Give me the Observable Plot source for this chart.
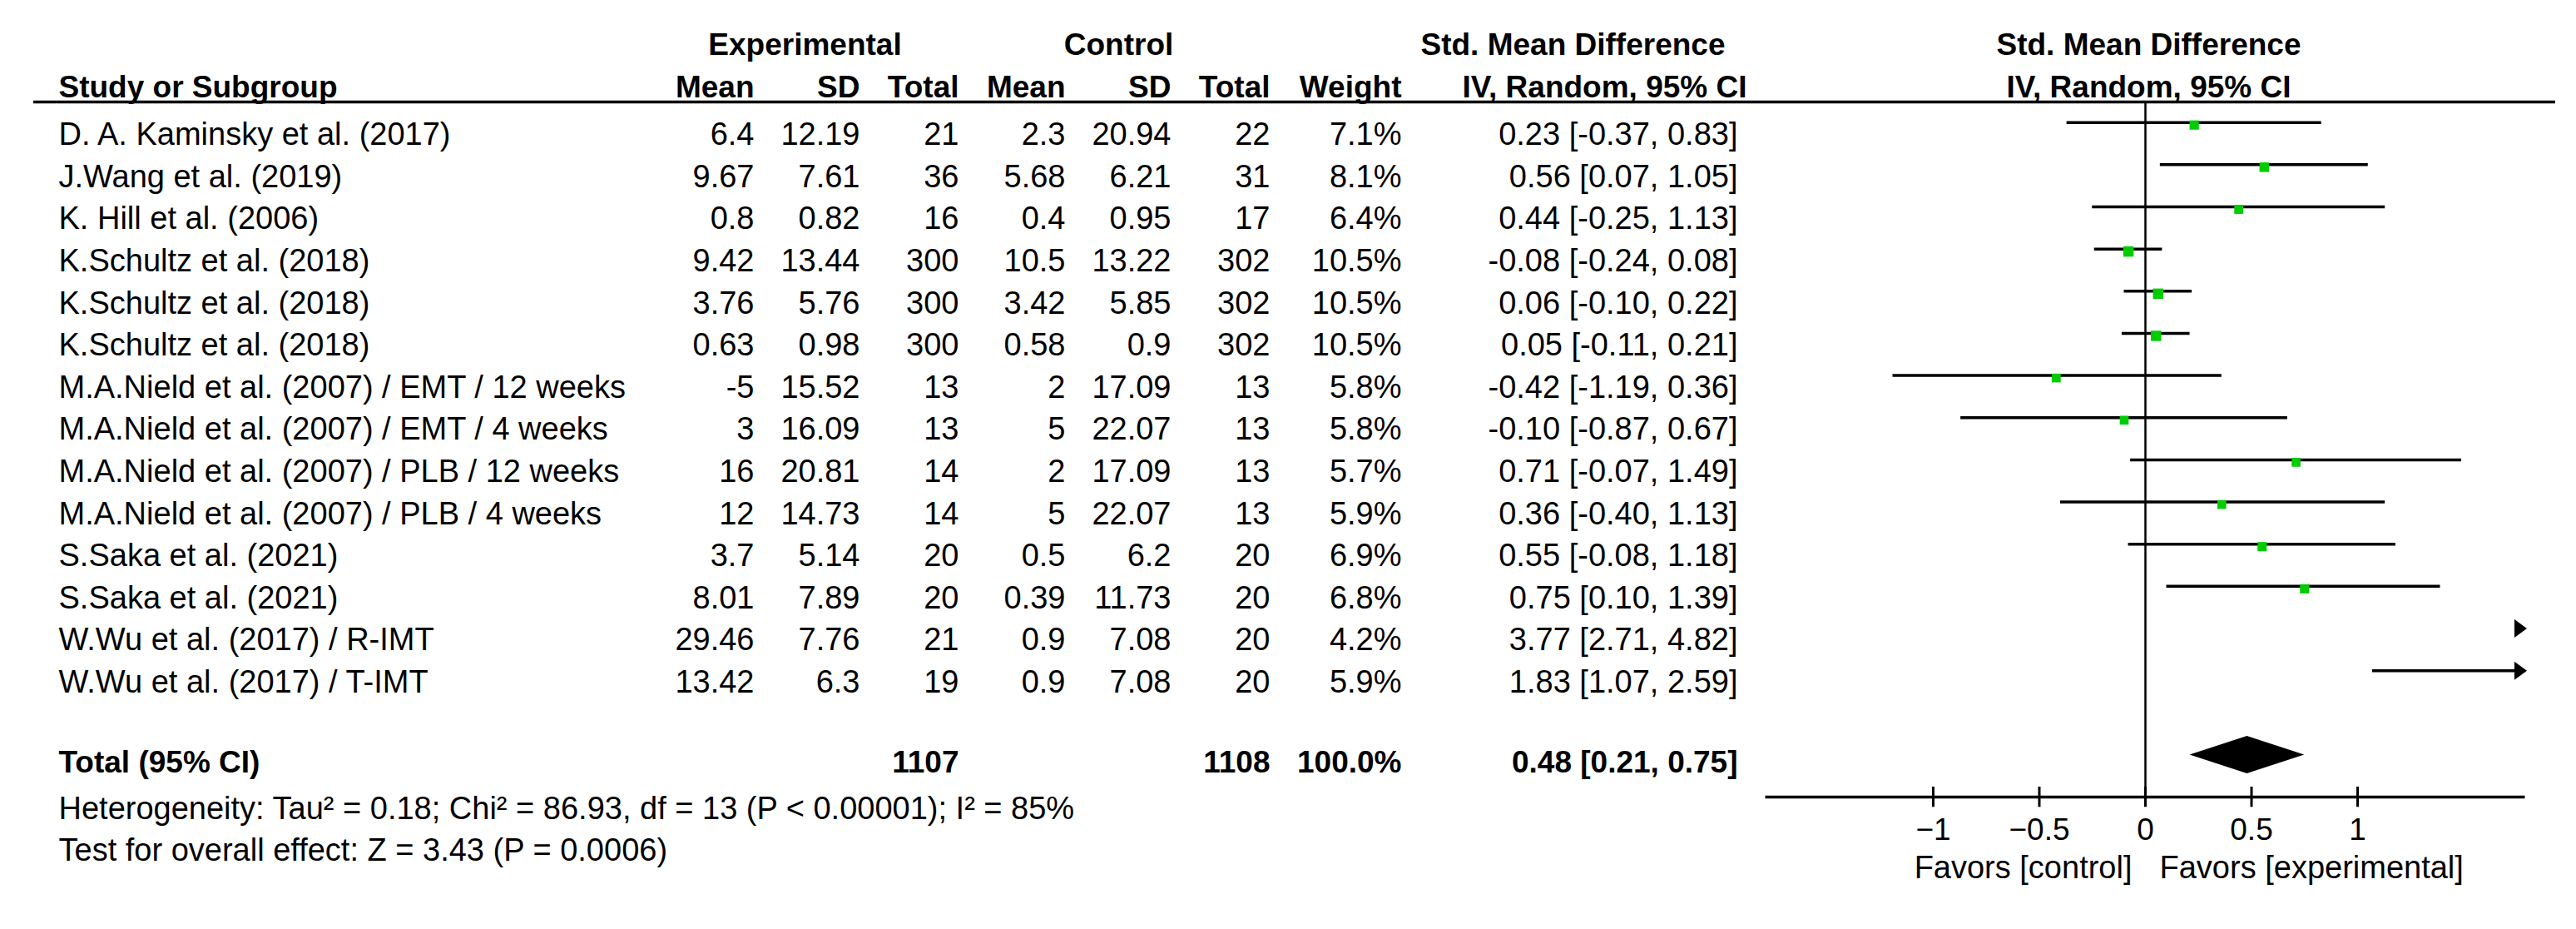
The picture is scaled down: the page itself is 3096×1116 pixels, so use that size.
<!DOCTYPE html>
<html>
<head>
<meta charset="utf-8">
<script src="https://cdn.jsdelivr.net/npm/d3@7"></script>
<script src="https://cdn.jsdelivr.net/npm/@observablehq/plot@0.6"></script>
<style>
  html, body { margin: 0; padding: 0; background: #ffffff; }
  #chart { position: relative; width: 3096px; height: 1116px; overflow: hidden; background: #ffffff; }
  #chart svg { position: absolute; left: 0; top: 0; max-width: none; }
</style>
</head>
<body>
<div id="chart"></div>
<script>
// ---------------- data ----------------
const studies = [
  "D. A. Kaminsky et al. (2017)",
  "J.Wang et al. (2019)",
  "K. Hill et al. (2006)",
  "K.Schultz et al. (2018)",
  "K.Schultz et al. (2018)",
  "K.Schultz et al. (2018)",
  "M.A.Nield et al. (2007) / EMT / 12 weeks",
  "M.A.Nield et al. (2007) / EMT / 4 weeks",
  "M.A.Nield et al. (2007) / PLB / 12 weeks",
  "M.A.Nield et al. (2007) / PLB / 4 weeks",
  "S.Saka et al. (2021)",
  "S.Saka et al. (2021)",
  "W.Wu et al. (2017) / R-IMT",
  "W.Wu et al. (2017) / T-IMT"
];
const expMean = [6.4, 9.67, 0.8, 9.42, 3.76, 0.63, -5, 3, 16, 12, 3.7, 8.01, 29.46, 13.42];
const expSD   = [12.19, 7.61, 0.82, 13.44, 5.76, 0.98, 15.52, 16.09, 20.81, 14.73, 5.14, 7.89, 7.76, 6.3];
const expN    = [21, 36, 16, 300, 300, 300, 13, 13, 14, 14, 20, 20, 21, 19];
const ctlMean = [2.3, 5.68, 0.4, 10.5, 3.42, 0.58, 2, 5, 2, 5, 0.5, 0.39, 0.9, 0.9];
const ctlSD   = [20.94, 6.21, 0.95, 13.22, 5.85, 0.9, 17.09, 22.07, 17.09, 22.07, 6.2, 11.73, 7.08, 7.08];
const ctlN    = [22, 31, 17, 302, 302, 302, 13, 13, 13, 13, 20, 20, 20, 20];
const weight  = [7.1, 8.1, 6.4, 10.5, 10.5, 10.5, 5.8, 5.8, 5.7, 5.9, 6.9, 6.8, 4.2, 5.9];
const smd     = [0.23, 0.56, 0.44, -0.08, 0.06, 0.05, -0.42, -0.10, 0.71, 0.36, 0.55, 0.75, 3.77, 1.83];
const ciLow   = [-0.37, 0.07, -0.25, -0.24, -0.10, -0.11, -1.19, -0.87, -0.07, -0.40, -0.08, 0.10, 2.71, 1.07];
const ciHigh  = [0.83, 1.05, 1.13, 0.08, 0.22, 0.21, 0.36, 0.67, 1.49, 1.13, 1.18, 1.39, 4.82, 2.59];
const pooledEffect = [0.48, 0.21, 0.75];   // estimate, lower, upper
const pooledWeight = "100.0%";
const totalLabel = "Total (95% CI)";
const axisTicks = [-1, -0.5, 0, 0.5, 1];
const axisDomain = [-1.79, 1.79];
const favorLabels = ["Favors [control]", "Favors [experimental]"];
const groupHeaders = ["Experimental", "Control", "Std. Mean Difference"];
const columnHeaders = ["Study or Subgroup", "Mean", "SD", "Total", "Mean", "SD", "Total", "Weight", "IV, Random, 95% CI"];
const plotHeaders = ["Std. Mean Difference", "IV, Random, 95% CI"];
const footnotes = [
  "Heterogeneity: Tau\u00B2 = 0.18; Chi\u00B2 = 86.93, df = 13 (P < 0.00001); I\u00B2 = 85%",
  "Test for overall effect: Z = 3.43 (P = 0.0006)"
];

// ---------------- layout (pixels / row units) ----------------
const W = 3096, H = 1116;
const FONT = "'Liberation Sans', Arial, Helvetica, sans-serif";
const FS = 38;      // regular text
const FSB = 37;     // bold headers
const FST = 37;     // tick labels
const INK = "#000000";
const GREEN = "#00cc00";
const colKeys = ["study", "expMean", "expSD", "expN", "ctlMean", "ctlSD", "ctlN", "weight", "ci"];
const colX = [70, 906, 1033, 1152, 1280, 1407, 1526, 1684, 2088];
const headerColX = [70, 906, 1033, 1152, 1280, 1407, 1526, 1684, 2099];
const groupHeaderX = [967, 1344, 1890];
const tableRows = {top: 161.5, pitch: 50.6};   // text centre of first row, row pitch
const forestRows = {top: 146.7, pitch: 50.65};
const headerLine = {x1: 40, x2: 3071};

// ---------------- derived tables ----------------
const fmtCI = (e, l, h) => `${e.toFixed(2)} [${l.toFixed(2)}, ${h.toFixed(2)}]`;
const rows = studies.map((s, i) => ({
  i,
  study: s,
  expMean: String(expMean[i]),
  expSD: String(expSD[i]),
  expN: String(expN[i]),
  ctlMean: String(ctlMean[i]),
  ctlSD: String(ctlSD[i]),
  ctlN: String(ctlN[i]),
  weight: weight[i].toFixed(1) + "%",
  ci: fmtCI(smd[i], ciLow[i], ciHigh[i]),
  est: smd[i], lo: ciLow[i], hi: ciHigh[i], w: weight[i]
}));
const nStudies = rows.length;
const totalRowIdx = nStudies + 1;

const cells = [];
rows.forEach(r => colKeys.forEach((k, c) => cells.push({row: r.i, c, text: r[k]})));
const totalCells = [
  {row: totalRowIdx, c: 0, text: totalLabel},
  {row: totalRowIdx, c: 3, text: String(d3.sum(expN))},
  {row: totalRowIdx, c: 6, text: String(d3.sum(ctlN))},
  {row: totalRowIdx, c: 7, text: pooledWeight},
  {row: totalRowIdx, c: 8, text: fmtCI(...pooledEffect)}
];
const footCells = footnotes.map((t, k) => ({row: totalRowIdx + 1 + k, text: t}));
const colHeaderCells = columnHeaders.map((t, c) => ({c, text: t}));

// ---------------- table plot ----------------
const tableHeader1 = -2.125, tableHeader2 = -1.132, tableLine = -0.78;
const textCommon = {fontFamily: FONT, fontSize: FS, fill: INK};
const boldCommon = {fontFamily: FONT, fontSize: FSB, fill: INK, fontWeight: "bold"};

const table = Plot.plot({
  width: W, height: H,
  marginTop: 0, marginBottom: 0, marginLeft: 0, marginRight: 0,
  style: {background: "transparent", fontFamily: FONT, fontSize: FS + "px", color: INK},
  x: {type: "identity", axis: null},
  y: {domain: [0, 17], range: [tableRows.top, tableRows.top + 17 * tableRows.pitch], axis: null},
  marks: [
    // group headers
    Plot.text(groupHeaders, {x: (d, i) => groupHeaderX[i], y: () => tableHeader1, text: d => d,
      textAnchor: "middle", ...boldCommon}),
    // column headers
    Plot.text(colHeaderCells.filter(d => d.c === 0), {x: d => headerColX[d.c], y: () => tableHeader2, text: "text",
      textAnchor: "start", ...boldCommon}),
    Plot.text(colHeaderCells.filter(d => d.c > 0), {x: d => headerColX[d.c], y: () => tableHeader2, text: "text",
      textAnchor: "end", ...boldCommon}),
    // header rule
    Plot.ruleY([tableLine], {x1: headerLine.x1, x2: headerLine.x2, stroke: INK, strokeWidth: 3.5}),
    // body
    Plot.text(cells.filter(d => d.c === 0), {x: d => colX[d.c], y: "row", text: "text", textAnchor: "start", ...textCommon}),
    Plot.text(cells.filter(d => d.c > 0), {x: d => colX[d.c], y: "row", text: "text", textAnchor: "end", ...textCommon}),
    // total row
    Plot.text(totalCells.filter(d => d.c === 0), {x: d => colX[d.c], y: "row", text: "text", textAnchor: "start",
      dy: -5, ...boldCommon}),
    Plot.text(totalCells.filter(d => d.c > 0), {x: d => colX[d.c], y: "row", text: "text", textAnchor: "end",
      dy: -5, ...boldCommon}),
    // footnotes
    Plot.text(footCells, {x: () => colX[0], y: "row", text: "text", textAnchor: "start", ...textCommon})
  ]
});

// ---------------- forest plot ----------------
const arrowHead = {
  draw(context) {
    context.moveTo(-13, -11);
    context.lineTo(2, 0);
    context.lineTo(-13, 11);
    context.closePath();
  }
};
const diamondHalf = 0.444; // half height in row units
const [pEst, pLo, pHi] = pooledEffect;
const diamond = [
  {x: pLo, y1: nStudies + 1, y2: nStudies + 1},
  {x: pEst, y1: nStudies + 1 - diamondHalf, y2: nStudies + 1 + diamondHalf},
  {x: pHi, y1: nStudies + 1, y2: nStudies + 1}
];
const axisRow = nStudies + 2;
const forestHeader1 = -1.83, forestHeader2 = -0.839, forestTopLine = -0.49;
const tickCommon = {fontFamily: FONT, fontSize: FST, fill: INK};

const forest = Plot.plot({
  width: W, height: H,
  marginTop: 0, marginBottom: 0, marginLeft: 0, marginRight: 0,
  style: {background: "transparent", fontFamily: FONT, fontSize: FS + "px", color: INK},
  x: {domain: axisDomain, range: [2121.5, 3034.5], clamp: true, axis: null},
  y: {domain: [0, 15], range: [forestRows.top, forestRows.top + 15 * forestRows.pitch], axis: null},
  r: {type: "linear", domain: [4, 10.5], range: [5.6, 7.0]},
  marks: [
    // headers
    Plot.text(plotHeaders, {x: () => 0, y: (d, i) => (i === 0 ? forestHeader1 : forestHeader2), text: d => d,
      dx: 4, textAnchor: "middle", ...boldCommon}),
    // line of no effect
    Plot.ruleX([0], {x: d => d, y1: forestTopLine, y2: axisRow, stroke: INK, strokeWidth: 2.5}),
    // confidence intervals
    Plot.ruleY(rows, {y: "i", x1: "lo", x2: "hi", stroke: INK, strokeWidth: 3.5}),
    // out-of-range arrowheads
    Plot.dot(rows.filter(d => d.hi > axisDomain[1]), {x: () => axisDomain[1], y: "i", symbol: arrowHead,
      r: 5, fill: INK, stroke: "none"}),
    // study estimates
    Plot.dot(rows.filter(d => d.est >= axisDomain[0] && d.est <= axisDomain[1]),
      {x: "est", y: "i", r: "w", symbol: "square", fill: GREEN, stroke: "none", dy: 3}),
    // pooled diamond
    Plot.areaY(diamond, {x: "x", y1: "y1", y2: "y2", fill: INK, stroke: "none"}),
    // axis
    Plot.ruleY([axisRow], {y: d => d, x1: axisDomain[0], x2: axisDomain[1], stroke: INK, strokeWidth: 3.5}),
    Plot.ruleX(axisTicks, {x: d => d, y1: axisRow - 0.24, y2: axisRow + 0.24, stroke: INK, strokeWidth: 3}),
    Plot.text(axisTicks, {x: d => d, y: () => axisRow + 0.79, text: d => d3.format("~g")(d), textAnchor: "middle", ...tickCommon}),
    Plot.text(favorLabels.slice(0, 1), {x: () => 0, y: () => axisRow + 1.68, text: d => d, dx: -16, textAnchor: "end", ...textCommon}),
    Plot.text(favorLabels.slice(1), {x: () => 0, y: () => axisRow + 1.68, text: d => d, dx: 17, textAnchor: "start", ...textCommon})
  ]
});

const chart = document.getElementById("chart");
chart.appendChild(table);
chart.appendChild(forest);
</script>
</body>
</html>
